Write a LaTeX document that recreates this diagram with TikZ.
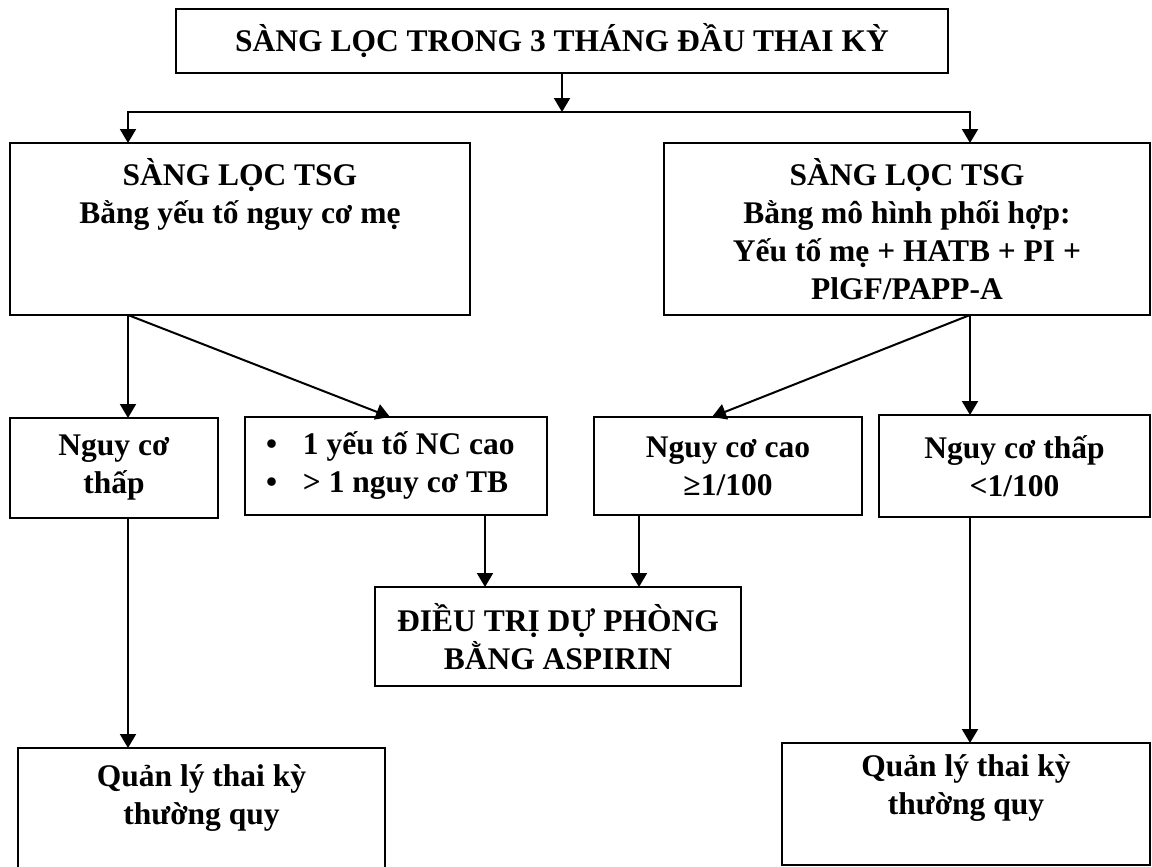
\documentclass[tikz,border=0pt]{standalone}
\usepackage{fontspec}
\setmainfont{Liberation Serif}
\usetikzlibrary{arrows.meta,positioning}
\newcommand{\boxfont}{\fontsize{15.75}{19}\selectfont\bfseries}
\newcommand{\bul}{\makebox[18.5pt][l]{•}}
\tikzset{
  box/.style={draw, line width=0.75pt, inner sep=0pt, outer sep=0pt, align=center, font=\boxfont},
  line/.style={-{Triangle[length=7pt,width=8pt]}, line width=1pt}
}

\begin{document}
\begin{tikzpicture}[x=0.5pt, y=-0.5pt]
  \useasboundingbox (0,0) rectangle (1152,867);
  \clip (0,0) rectangle (1152,867);

  \node[box, minimum width=386pt, minimum height=32pt] (screen) at (562,41) {SÀNG LỌC TRONG 3 THÁNG ĐẦU THAI KỲ};
  \node[box, minimum width=230pt, minimum height=86pt] (lscr) at (240,229) {SÀNG LỌC TSG\\Bằng yếu tố nguy cơ mẹ\\\mbox{}\\\mbox{}};
  \node[box, minimum width=243pt, minimum height=86pt] (rscr) at (907,229) {SÀNG LỌC TSG\\Bằng mô hình phối hợp:\\Yếu tố mẹ + HATB + PI +\\PlGF/PAPP-A};
  \node[box, minimum width=104pt, minimum height=50pt] (nlow) at (114,468) {Nguy cơ\\thấp};
  \node[box, minimum height=49pt, align=flush left, inner xsep=10.5pt, text width=130pt] (risk) at (396,466) {\bul 1 yếu tố NC cao\\\bul > 1 nguy cơ TB};
  \node[box, minimum width=134pt, minimum height=49pt] (nhigh) at (728,466) {Nguy cơ cao\\≥1/100};
  \node[box, minimum width=135.5pt, minimum height=51pt] (rlow) at (1014.5,466) {Nguy cơ thấp\\<1/100};
  \node[box, minimum width=183pt, minimum height=49.5pt] (aspirin) at (558,636.5) {ĐIỀU TRỊ DỰ PHÒNG\\BẰNG ASPIRIN};
  \node[box, minimum width=183.5pt, minimum height=66pt] (qleft) at (201.5,814) {Quản lý thai kỳ\\thường quy\\\mbox{}};
  \node[box, minimum width=184pt, minimum height=61pt] (qright) at (966,804) {Quản lý thai kỳ\\thường quy\\\mbox{}};

  \coordinate (split) at (562,112);
  \coordinate (lx) at (128,0);
  \coordinate (rx) at (970,0);
  \coordinate (ax) at (485,0);
  \coordinate (bx) at (639,0);

  \draw[line] (screen) -- (split);
  \draw[line] (split) -| (lx |- lscr.north);
  \draw[line] (split) -| (rx |- rscr.north);
  \draw[line] (lx |- lscr.south) -- (lx |- nlow.north);
  \draw[line] (lx |- lscr.south) -- ([xshift=-3pt]risk.north);
  \draw[line] (rx |- rscr.south) -- (rx |- rlow.north);
  \draw[line] (rx |- rscr.south) -- ([xshift=-8pt]nhigh.north);
  \draw[line] (ax |- risk.south) -- (ax |- aspirin.north);
  \draw[line] (bx |- nhigh.south) -- (bx |- aspirin.north);
  \draw[line] (lx |- nlow.south) -- (lx |- qleft.north);
  \draw[line] (rx |- rlow.south) -- (rx |- qright.north);
\end{tikzpicture}
\end{document}
